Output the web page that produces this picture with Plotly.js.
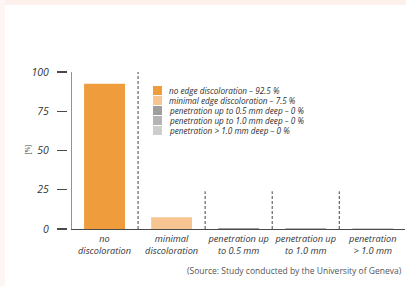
<!DOCTYPE html>
<html><head><meta charset="utf-8">
<script src="https://cdn.plot.ly/plotly-3.0.1.min.js"></script>
<style>html,body{margin:0;padding:0;background:#fff}#chart{width:406px;height:286px}</style>
</head><body><div id="chart"></div>
<script>
const categories = ["no<br>discoloration","minimal<br>discoloration","penetration up<br>to 0.5 mm","penetration up<br>to 1.0 mm","penetration<br>> 1.0 mm"];
const values = [92.5, 7.5, 0.7, 0.7, 0.7];
const legendLabels = ["no edge discoloration – 92.5 %","minimal edge discoloration – 7.5 %","penetration up to 0.5 mm deep – 0 %","penetration up to 1.0 mm deep – 0 %","penetration > 1.0 mm deep – 0 %"];
const colors = ["#EF9D3C","#F6C592","#9E9E9E","#B4B4B4","#CDCDCD"];
const yTicks = [0,25,50,75,100];
const dividerTops = [100, 24, 24, 24];

const W=406,H=286,L=67,R=1,T=72,B=57;
const pw=W-L-R, ph=H-T-B;
const px = x => (x-L)/pw;
const py = y => (H-B-y)/ph;
const font = "'Open Sans', sans-serif";

const traces = categories.map((c,i)=>({
  type:'bar', x:[i], y:[values[i]], width:0.61,
  marker:{color:colors[i]}, showlegend:false, hoverinfo:'skip'
}));

const shapes = [];
shapes.push({type:'line', xref:'x', yref:'y', x0:-0.5, x1:-0.5, y0:0, y1:100, line:{color:'#4a4a4a', width:1.2}});
dividerTops.forEach((top,i)=>shapes.push({type:'line', xref:'x', yref:'y', x0:i+0.5, x1:i+0.5, y0:0, y1:top, line:{color:'#444', width:1, dash:'3px,2px'}}));
const annotations = [];
legendLabels.forEach((lab,i)=>{
  const cy = 90.5 + i*10;
  shapes.push({type:'rect', xref:'paper', yref:'paper', x0:px(153), x1:px(162), y0:py(cy+4.5), y1:py(cy-4.5), fillcolor:colors[i], line:{width:0}});
  annotations.push({xref:'paper', yref:'paper', x:px(168), y:py(cy), text:lab, showarrow:false, xanchor:'left', yanchor:'middle', borderpad:0, font:{family:font, size:8.2, style:'italic', color:'#2e2e2e'}});
});
shapes.push({type:'rect', xref:'paper', yref:'paper', x0:px(0), x1:px(406), y0:py(0), y1:py(5), fillcolor:'#fdf1ee', line:{width:0}, layer:'below'});
shapes.push({type:'rect', xref:'paper', yref:'paper', x0:px(0), x1:px(5), y0:py(0), y1:py(286), fillcolor:'#fef6f4', line:{width:0}, layer:'below'});

annotations.push({xref:'paper', yref:'paper', x:px(20), y:py(150), text:'[%]', textangle:-90, showarrow:false, font:{family:font, size:6.5, color:'#444'}});
annotations.push({xref:'paper', yref:'paper', x:px(404), y:py(270), text:'(Source: Study conducted by the University of Geneva)', showarrow:false, xanchor:'right', yanchor:'middle', font:{family:font, size:8.5, color:'#555'}});

const layout = {
  width:W, height:H, margin:{l:L,r:R,t:T,b:B,pad:0},
  paper_bgcolor:'#fff', plot_bgcolor:'#fff',
  barmode:'overlay', showlegend:false,
  xaxis:{domain:[4/pw,1], range:[-0.5,4.48], tickvals:[0,1,2,3,4], ticktext:categories, showline:true, linecolor:'#4a4a4a', linewidth:1.2, ticks:'', showgrid:false, zeroline:false, fixedrange:true,
    tickfont:{family:font, size:9.2, style:'italic', color:'#333'}, ticklabelstandoff:1},
  yaxis:{anchor:'free', position:0, range:[0,100], tickvals:yTicks, ticks:'outside', ticklen:10, tickcolor:'#4a4a4a', tickwidth:1.2, showline:false, showgrid:false, zeroline:false, fixedrange:true,
    tickfont:{family:font, size:10.5, style:'italic', color:'#333'}, ticklabelstandoff:6},
  shapes, annotations
};
Plotly.newPlot('chart', traces, layout, {displayModeBar:false, staticPlot:true});
</script></body></html>
